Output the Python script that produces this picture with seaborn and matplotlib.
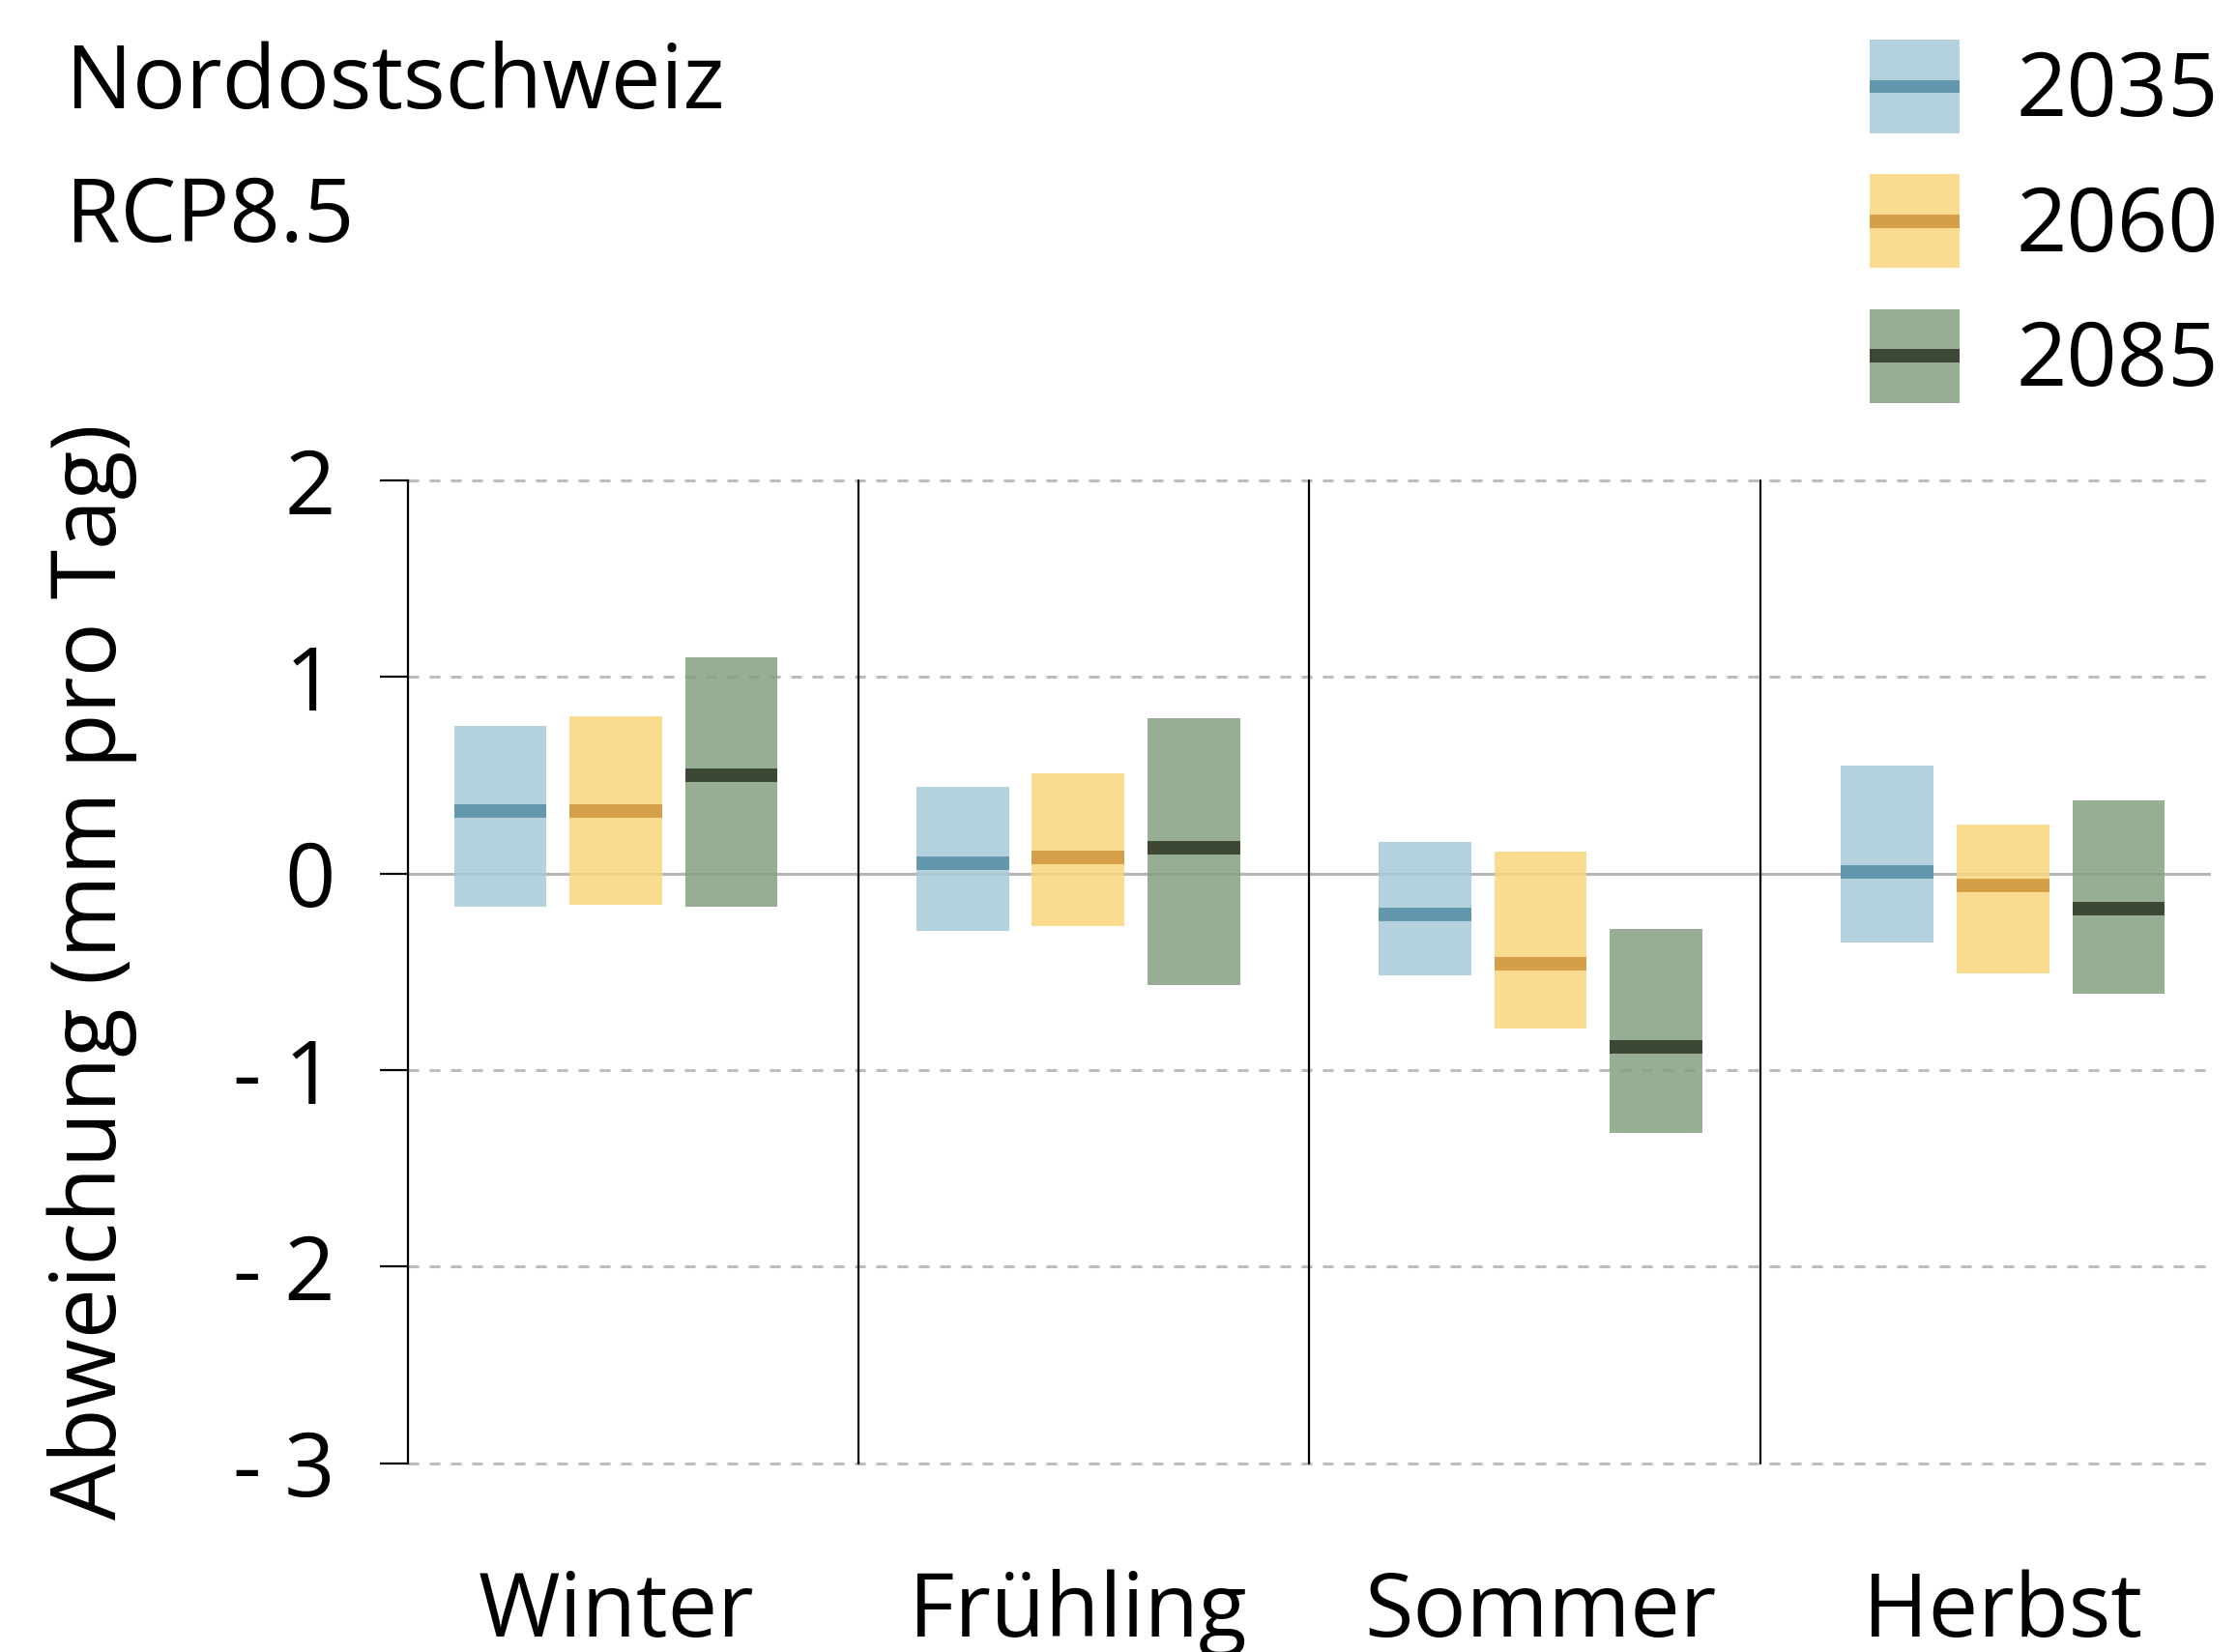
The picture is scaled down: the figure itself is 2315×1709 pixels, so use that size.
import matplotlib
matplotlib.use("Agg")
import matplotlib.pyplot as plt
import seaborn as sns
import pandas as pd
import numpy as np
from matplotlib.patches import Patch, Rectangle
from matplotlib.legend_handler import HandlerTuple, HandlerPatch

# ---------------- data ----------------
seasons = ["Winter", "Frühling", "Sommer", "Herbst"]
periods = ["2035", "2060", "2085"]

low_2035 = [-0.17, -0.29, -0.52, -0.35]
high_2035 = [0.75, 0.44, 0.16, 0.55]
med_2035 = [0.32, 0.05, -0.21, 0.01]

low_2060 = [-0.16, -0.27, -0.79, -0.51]
high_2060 = [0.80, 0.51, 0.11, 0.25]
med_2060 = [0.32, 0.08, -0.46, -0.06]

low_2085 = [-0.17, -0.57, -1.32, -0.61]
high_2085 = [1.10, 0.79, -0.28, 0.37]
med_2085 = [0.50, 0.13, -0.88, -0.18]

ytick_values = [2, 1, 0, -1, -2, -3]
ytick_labels = ["2", "1", "0", "- 1", "- 2", "- 3"]

title_lines = ["Nordostschweiz", "RCP8.5"]
ylabel = "Abweichung (mm pro Tag)"

# ---------------- style ----------------
fill_colors = ["#a7cbd8", "#f8d67b", "#85a082"]
median_colors = ["#6397ad", "#d59f48", "#3c4833"]
bar_alpha = 0.85

sns.set_theme(style="white")
plt.rcParams['font.family'] = ['Open Sans', 'DejaVu Sans']
plt.rcParams['text.color'] = 'black'
plt.rcParams['xtick.color'] = 'black'
plt.rcParams['ytick.color'] = 'black'
plt.rcParams['axes.labelcolor'] = 'black'

W, H = 2315, 1709
DPI = 200
fig = plt.figure(figsize=(W / DPI, H / DPI), dpi=DPI)
ax = fig.add_axes([421.8 / W, 1 - 1513.5 / H, (2287 - 421.8) / W, (1513.5 - 497) / H])

FS = 33

# grid lines
for v in ytick_values:
    if v == 0:
        ax.axhline(v, color="#b5b5b5", lw=1.1, zorder=1)
    else:
        ax.axhline(v, color="#bcbcbc", lw=1.1, ls=(0, (3.6, 3.6)), zorder=1, clip_on=False)

lows = [low_2035, low_2060, low_2085]
highs = [high_2035, high_2060, high_2085]
meds = [med_2035, med_2060, med_2085]
offsets = [-0.25, 0.0, 0.25]
bar_w = 0.2

for k in range(3):
    pos = np.arange(len(seasons)) + offsets[k]
    lo = np.array(lows[k])
    hi = np.array(highs[k])
    df = pd.DataFrame({"x": pos, "h": hi - lo})
    sns.barplot(data=df, x="x", y="h", native_scale=True, width=bar_w,
                bottom=lo, color=fill_colors[k], saturation=1, alpha=bar_alpha,
                errorbar=None, linewidth=0, edgecolor="none", ax=ax, zorder=2)
    ax.hlines(meds[k], pos - bar_w / 2, pos + bar_w / 2, color=median_colors[k],
              lw=5, zorder=3)

# separators between seasons
for f in [0.25, 0.5, 0.75]:
    ax.plot([f, f], [0, 1], transform=ax.transAxes, color="black", lw=0.8,
            clip_on=False, zorder=4)

ax.set_xlim(-0.45, 3.45)
ax.set_ylim(-3, 2)
ax.set_xticks(range(len(seasons)))
ax.set_xticklabels(seasons)
ax.set_yticks(ytick_values)
ax.set_yticklabels(ytick_labels)
ax.set_xlabel("")
ax.set_ylabel("")

for s in ["top", "right", "bottom"]:
    ax.spines[s].set_visible(False)
ax.spines["left"].set_color("black")
ax.spines["left"].set_linewidth(0.8)

ax.tick_params(axis="y", left=True, length=10.4, width=0.8, pad=16.6,
               labelsize=FS, color="black", labelcolor="black")
ax.tick_params(axis="x", bottom=False, length=0, pad=39.5, labelsize=FS,
               labelcolor="black")

# titles
fig.text(68 / W, 1 - 112 / H, title_lines[0], fontsize=FS, ha="left", va="baseline")
fig.text(68 / W, 1 - 250 / H, title_lines[1], fontsize=FS, ha="left", va="baseline")

# y label
fig.text(48 / W, 1 - 1005 / H, ylabel, rotation=90, fontsize=FS + 0.5, ha="left", va="center")


# legend
class MedianPatch(Patch):
    pass


def median_bar(legend, orig_handle, xdescent, ydescent, width, height, fontsize):
    t = 5.0
    return Rectangle((-xdescent, -ydescent + height / 2 - t / 2), width, t)


handles = [(Patch(facecolor=fill_colors[k], alpha=bar_alpha, lw=0),
            MedianPatch(facecolor=median_colors[k], lw=0))
           for k in range(3)]
fig.legend(handles, periods, loc="upper left", bbox_to_anchor=(1934 / W, 1 - 41 / H),
           frameon=False, fontsize=FS, handlelength=1.01, handleheight=1.25,
           handletextpad=0.64, labelspacing=0.415, borderpad=0, borderaxespad=0,
           handler_map={tuple: HandlerTuple(ndivide=1),
                        MedianPatch: HandlerPatch(patch_func=median_bar)})

fig.savefig("out.png", dpi=DPI)
